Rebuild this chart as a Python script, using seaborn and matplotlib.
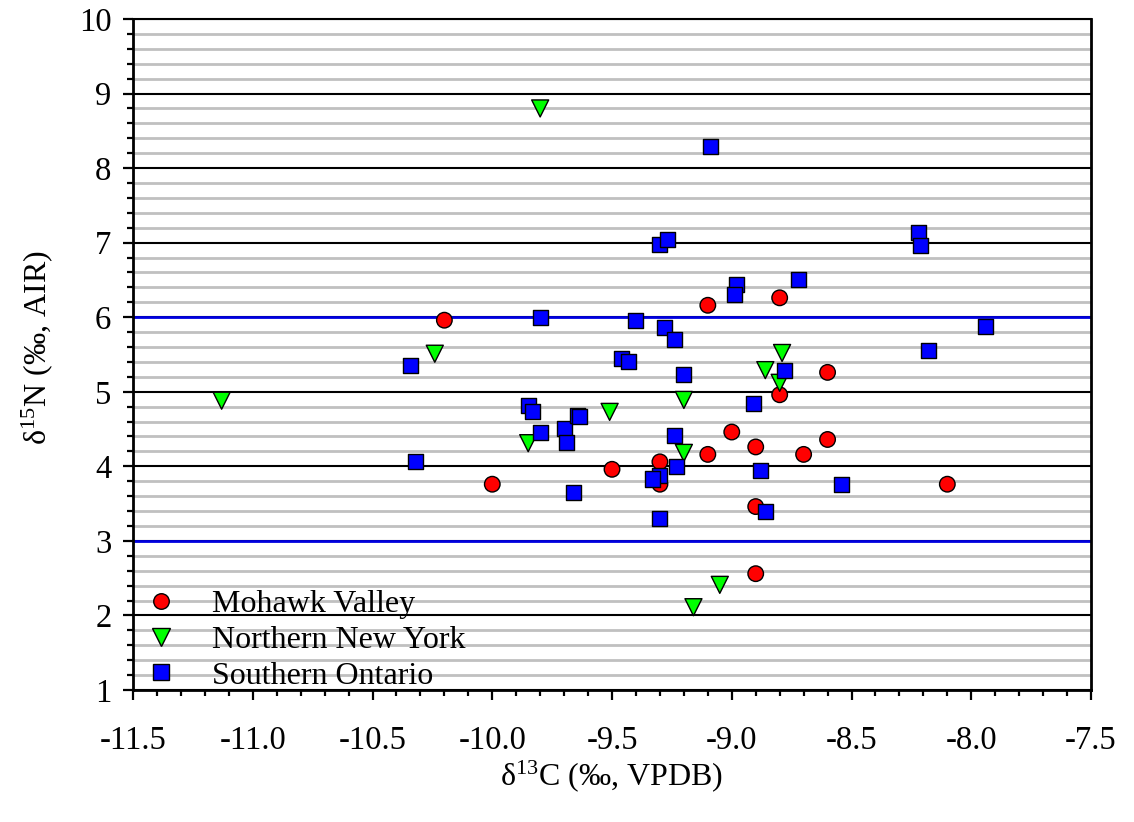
import numpy as np
import pandas as pd
import matplotlib
matplotlib.use("Agg")
import matplotlib.pyplot as plt
import seaborn as sns

# datos (d13C, d15N)
mv_x = [-10.20, -10.00, -9.50, -9.30, -9.30, -9.10, -8.80, -8.60, -8.80,
        -9.00, -9.10, -8.90, -8.70, -8.60, -8.10, -8.90, -8.90]
mv_y = [5.96, 3.76, 3.96, 4.06, 3.76, 6.16, 6.26, 5.26, 4.96,
        4.46, 4.16, 4.26, 4.16, 4.36, 3.76, 3.46, 2.56]

nny_x = [-11.13, -10.24, -9.85, -9.51, -9.20, -9.20, -8.79, -8.86, -8.80,
         -9.80, -9.05, -9.16]
nny_y = [4.88, 5.51, 4.31, 4.73, 4.89, 4.18, 5.52, 5.29, 5.12,
         8.80, 2.41, 2.11]

so_x = [-10.34, -10.32, -9.80, -9.40, -9.28, -9.24, -9.46, -9.43, -9.20,
        -9.85, -9.83, -9.80, -9.70, -9.69, -9.645, -9.635, -9.66, -9.24,
        -9.23, -9.30, -9.33, -9.30, -9.30, -9.27, -8.98, -8.99, -8.72,
        -8.22, -8.21, -8.18, -7.94, -8.78, -8.91, -8.88, -8.54, -8.86, -9.09]
so_y = [5.35, 4.07, 6.00, 5.95, 5.86, 5.70, 5.44, 5.40, 5.23,
        4.82, 4.73, 4.46, 4.51, 4.32, 4.685, 4.665, 3.65, 4.41,
        4.00, 3.88, 3.83, 3.30, 6.97, 7.04, 6.44, 6.31, 6.50,
        7.13, 6.96, 5.55, 5.88, 5.28, 4.84, 3.94, 3.76, 3.39, 8.29]

regiones = ["Mohawk Valley", "Northern New York", "Southern Ontario"]
colores = {"Mohawk Valley": "#ff0000", "Northern New York": "#00ff00",
           "Southern Ontario": "#0000ff"}
marcadores = {"Mohawk Valley": "o", "Northern New York": "v",
              "Southern Ontario": "s"}
tamanos = {"Mohawk Valley": 125, "Northern New York": 150,
           "Southern Ontario": 117}

df = pd.concat([
    pd.DataFrame({"d13C": mv_x, "d15N": mv_y, "region": regiones[0]}),
    pd.DataFrame({"d13C": nny_x, "d15N": nny_y, "region": regiones[1]}),
    pd.DataFrame({"d13C": so_x, "d15N": so_y, "region": regiones[2]}),
], ignore_index=True)

sns.set_theme(style="white")
plt.rcParams["font.family"] = ["Liberation Serif", "DejaVu Serif"]
plt.rcParams["mathtext.fontset"] = "custom"
plt.rcParams["mathtext.rm"] = "Liberation Serif"
plt.rcParams["mathtext.default"] = "regular"
plt.rcParams["axes.unicode_minus"] = False
plt.rcParams["text.color"] = "black"
plt.rcParams["axes.labelcolor"] = "black"

fig = plt.figure(figsize=(11.34, 8.22), dpi=100)
ax = fig.add_axes([0.1173, 0.1606, 0.8448, 0.8163])

sns.scatterplot(data=df, x="d13C", y="d15N", hue="region", style="region",
                size="region", hue_order=regiones, style_order=regiones,
                size_order=regiones, palette=colores, markers=marcadores,
                sizes=tamanos, edgecolor="black", linewidth=1.0, alpha=1,
                zorder=3, ax=ax)

# lineas de referencia azules
ax.axhline(3, color="#0000e0", lw=2.0, zorder=1)
ax.axhline(6, color="#0000e0", lw=2.0, zorder=1)

ax.set_xlim(-11.5, -7.5)
ax.set_ylim(1, 10)
ax.set_xticks(np.arange(-11.5, -7.49, 0.5))
ax.set_xticks(np.arange(-11.5, -7.49, 0.1), minor=True)
ax.set_xticklabels([f"{v:.1f}" for v in np.arange(-11.5, -7.49, 0.5)])
ax.set_yticks(range(1, 11))
ax.set_yticks(np.arange(1, 10.01, 0.2), minor=True)

ax.set_axisbelow(True)
ax.grid(which="minor", axis="y", color="#c0c0c0", lw=2.0)
ax.grid(which="major", axis="y", color="black", lw=1.5)
ax.grid(which="both", axis="x", visible=False)

for lado in ["left", "bottom", "right"]:
    ax.spines[lado].set_color("black")
    ax.spines[lado].set_linewidth(2.0)
ax.spines["top"].set_color("black")
ax.spines["top"].set_linewidth(1.5)

ax.tick_params(axis="both", which="major", direction="out", length=7.5,
               width=1.6, colors="black", labelsize=23.5)
ax.tick_params(axis="both", which="minor", direction="out", length=4,
               width=1.6, colors="black")
ax.tick_params(axis="x", which="both", bottom=True, pad=18)
ax.tick_params(axis="y", which="both", left=True, pad=8)

ax.set_xlabel("δ$^{13}$C (‰, VPDB)", fontsize=23)
ax.set_ylabel("δ$^{15}$N (‰, AIR)", fontsize=23)
ax.xaxis.set_label_coords(0.5, -0.102)
ax.yaxis.set_label_coords(-0.081, 0.51)

handles, labels = ax.get_legend_handles_labels()
pares = [(h, l) for h, l in zip(handles, labels) if l in regiones]
ax.legend([p[0] for p in pares], [p[1] for p in pares], loc="lower left",
          bbox_to_anchor=(0.004, -0.001),
          frameon=False, fontsize=23, handlelength=1.5, handletextpad=0.85,
          borderaxespad=0.0, borderpad=0.0, labelspacing=0.2)

plt.savefig("out.png", dpi=100)
plt.close()
